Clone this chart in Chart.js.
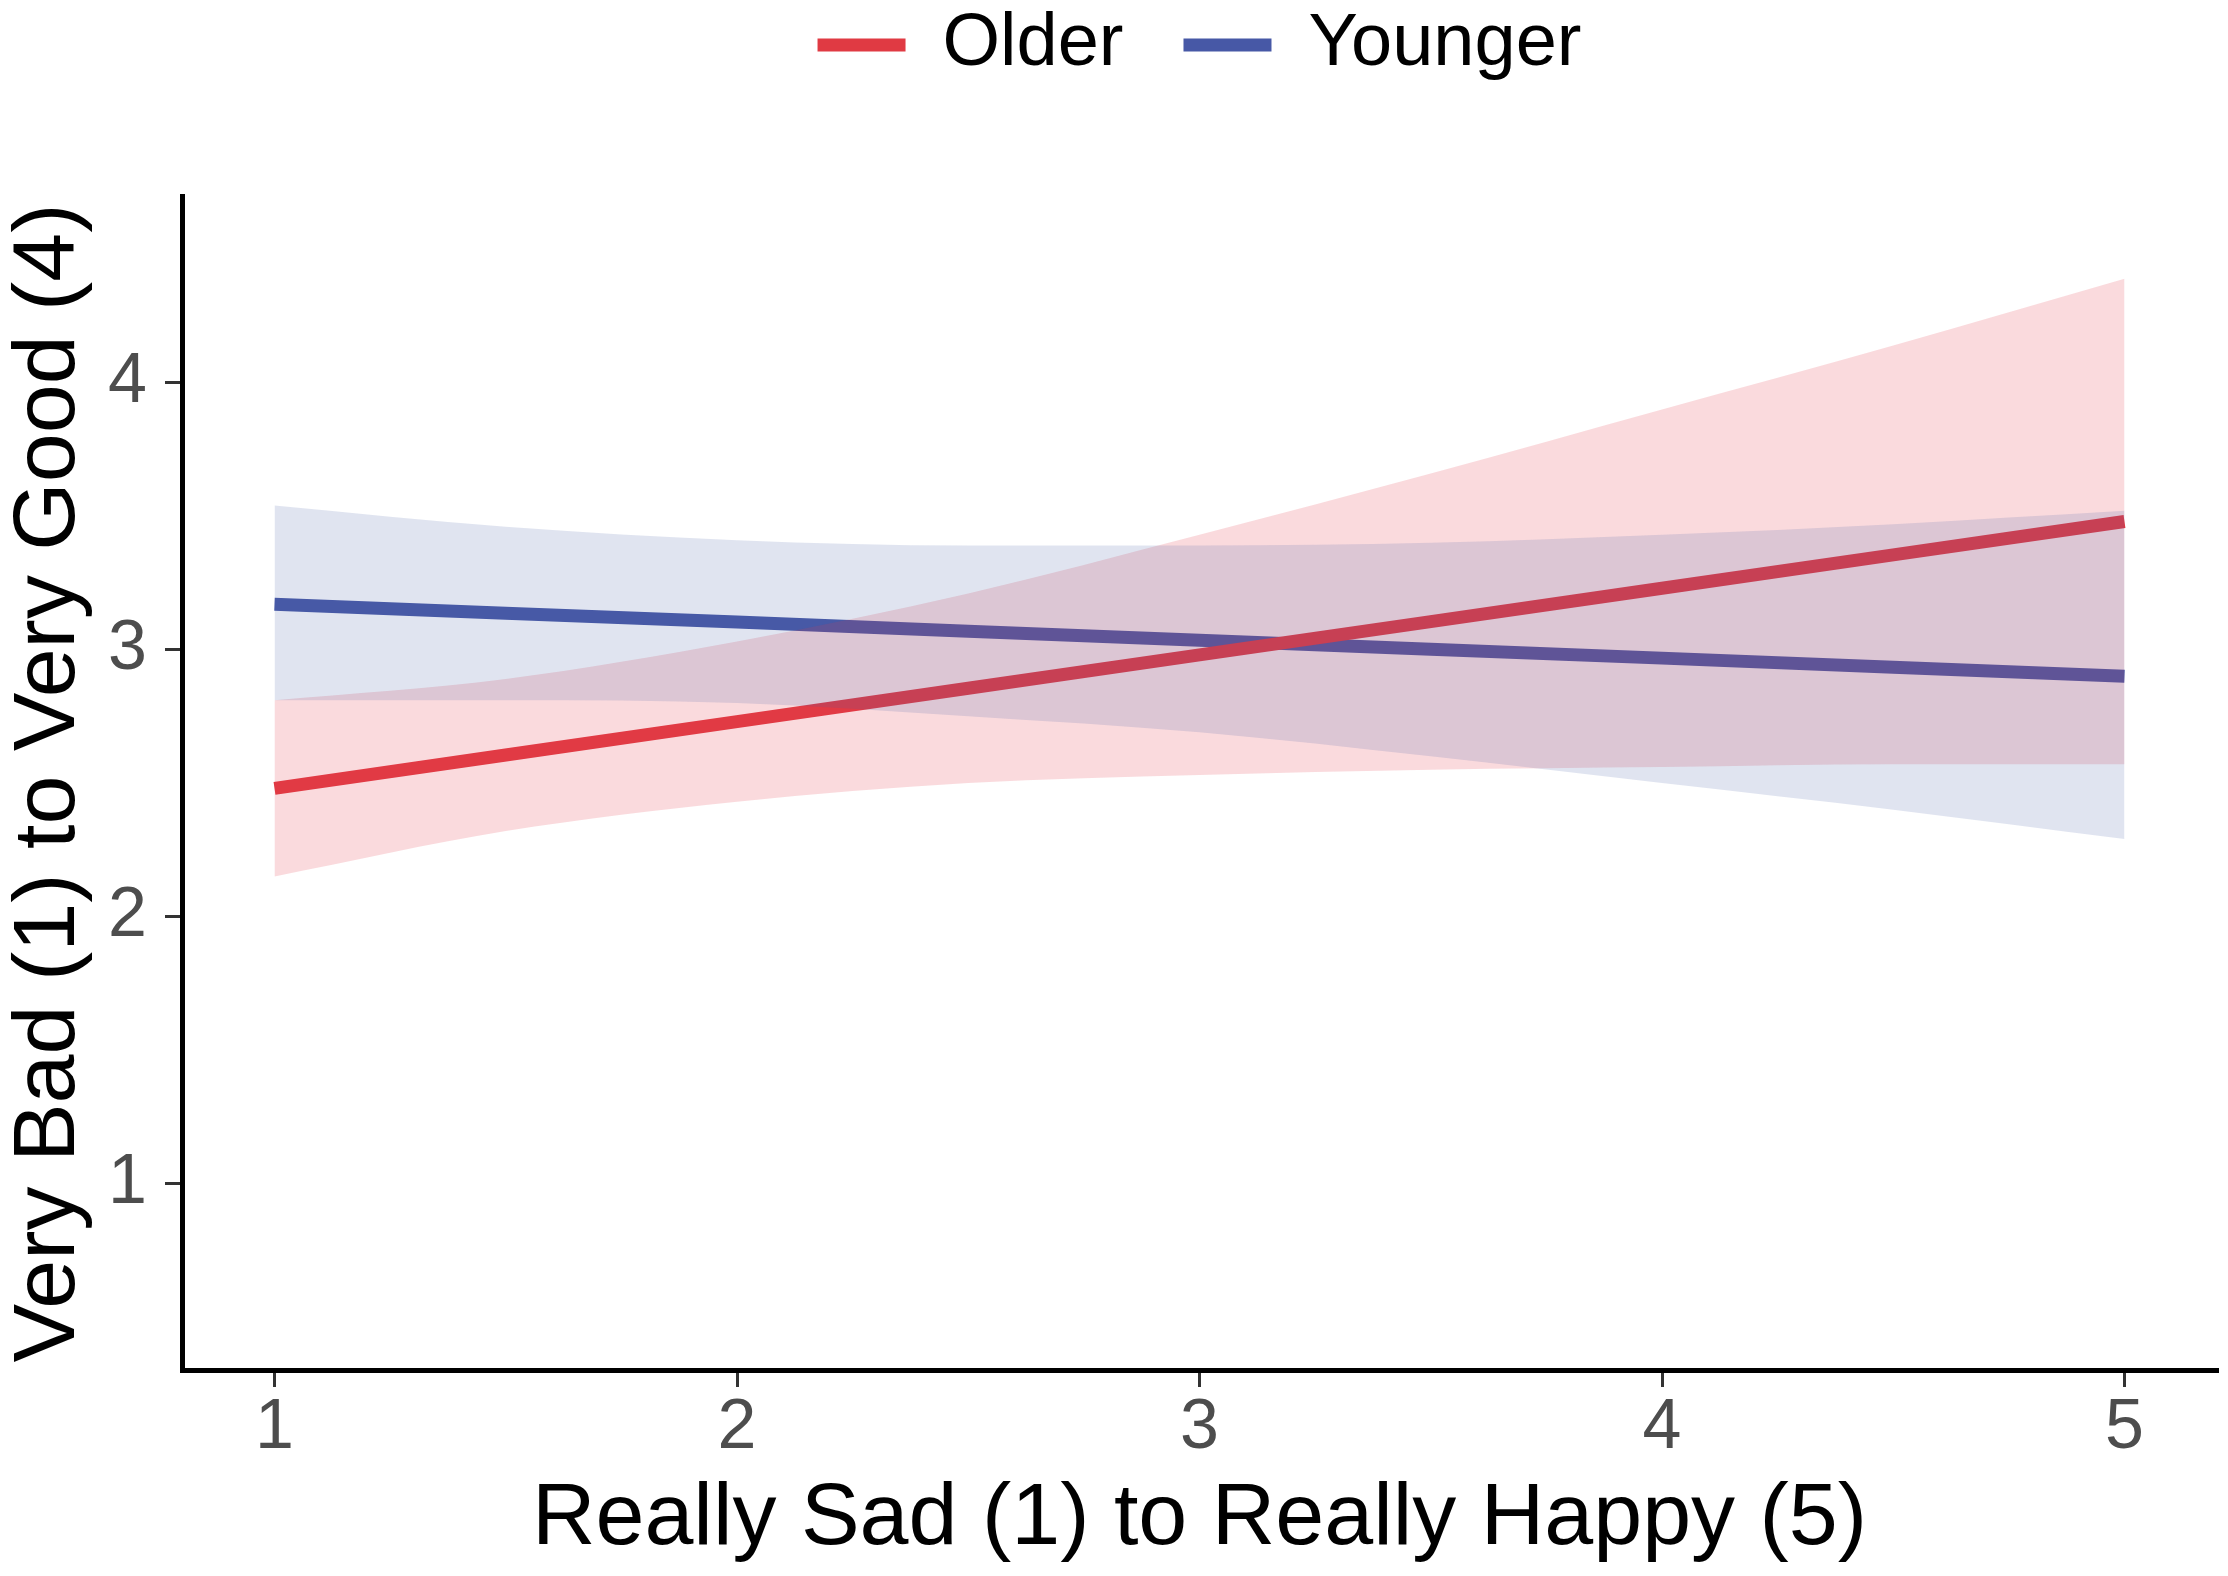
<!DOCTYPE html>
<html>
<head>
<meta charset="utf-8">
<script src="https://cdn.jsdelivr.net/npm/chart.js@4/dist/chart.umd.min.js"></script>
<style>
  body { margin: 0; background: #fff; }
  #wrap { width: 2228px; height: 1576px; }
</style>
</head>
<body>
<div id="wrap"><canvas id="chart"></canvas></div>
<script>
const happiness = [1, 1.5, 2, 2.5, 3, 3.5, 4, 4.5, 5];

const olderFit   = [2.48, 2.605, 2.73, 2.855, 2.98, 3.105, 3.23, 3.355, 3.48];
const olderUpper = [2.81, 2.89, 3.03, 3.21, 3.43, 3.66, 3.90, 4.14, 4.39];
const olderLower = [2.15, 2.32, 2.43, 2.50, 2.53, 2.55, 2.56, 2.57, 2.57];

const youngerFit   = [3.17, 3.136, 3.103, 3.069, 3.035, 3.001, 2.968, 2.934, 2.90];
const youngerUpper = [3.54, 3.46, 3.41, 3.39, 3.39, 3.40, 3.43, 3.47, 3.52];
const youngerLower = [2.81, 2.81, 2.80, 2.75, 2.69, 2.60, 2.50, 2.40, 2.29];

const xTicks = [1, 2, 3, 4, 5];
const yTicks = [1, 2, 3, 4];

const groups = ["Older", "Younger"];
const lineColors = ["#e03a43", "#4758a6"];
const bandColors = ["rgba(228,60,72,0.19)", "rgba(74,92,168,0.17)"];

const FONT = "'Liberation Sans', Arial, Helvetica, sans-serif";

function pts(ys) {
  return happiness.map((x, i) => ({x: x, y: ys[i]}));
}

function band(upper, lower, color) {
  return [
    {
      label: "band",
      data: pts(upper),
      borderWidth: 0,
      pointRadius: 0,
      backgroundColor: color,
      fill: "+1",
      cubicInterpolationMode: "monotone",
      order: 0
    },
    {
      label: "band",
      data: pts(lower),
      borderWidth: 0,
      pointRadius: 0,
      fill: false,
      cubicInterpolationMode: "monotone",
      order: 0
    }
  ];
}

function fitLine(name, ys, color) {
  return {
    label: name,
    data: pts(ys),
    borderColor: color,
    backgroundColor: color,
    borderWidth: 13,
    pointRadius: 0,
    fill: false,
    tension: 0,
    order: 10
  };
}

const ctx = document.getElementById("chart");

new Chart(ctx, {
  type: "line",
  data: {
    datasets: [
      fitLine(groups[0], olderFit, lineColors[0]),
      fitLine(groups[1], youngerFit, lineColors[1]),
      ...band(youngerUpper, youngerLower, bandColors[1]),
      ...band(olderUpper, olderLower, bandColors[0])
    ]
  },
  options: {
    responsive: true,
    maintainAspectRatio: false,
    animation: false,
    layout: {
      padding: {top: -52, right: 11, bottom: 0, left: 0}
    },
    plugins: {
      tooltip: {enabled: false},
      legend: {
        position: "top",
        fullSize: false,
        labels: {
          color: "#000",
          font: {family: FONT, size: 74},
          boxWidth: 88,
          boxHeight: 13,
          padding: 60,
          generateLabels: function(chart) {
            const items = Chart.defaults.plugins.legend.labels.generateLabels(chart);
            return items
              .filter(it => groups.includes(it.text))
              .map(it => Object.assign(it, {lineWidth: 0, fillStyle: it.strokeStyle}));
          }
        }
      }
    },
    scales: {
      x: {
        type: "linear",
        position: "bottom",
        min: 0.8,
        max: 5.2,
        afterBuildTicks: s => { s.ticks = xTicks.map(v => ({value: v})); },
        afterFit: s => { s.height = 206; },
        border: {display: true, color: "#000", width: 5},
        grid: {drawOnChartArea: false, drawTicks: true, tickLength: 17, color: "#333", lineWidth: 3},
        ticks: {color: "#4d4d4d", font: {family: FONT, size: 70}, padding: 0, maxRotation: 0},
        title: {
          display: true,
          text: "Really Sad (1) to Really Happy (5)",
          color: "#000",
          font: {family: FONT, size: 88},
          padding: {top: 0, bottom: 3}
        }
      },
      gap: {
        type: "linear",
        axis: "x",
        position: "top",
        display: true,
        grid: {display: false},
        border: {display: false},
        ticks: {display: false},
        afterFit: s => { s.height = 104; }
      },
      y: {
        type: "linear",
        min: 0.3,
        max: 4.7,
        afterBuildTicks: s => { s.ticks = yTicks.map(v => ({value: v})); },
        afterFit: s => { s.width = 182; },
        border: {display: true, color: "#000", width: 5},
        grid: {drawOnChartArea: false, drawTicks: true, tickLength: 17, color: "#333", lineWidth: 3},
        ticks: {color: "#4d4d4d", font: {family: FONT, size: 70}, padding: 18},
        title: {
          display: true,
          text: "Very Bad (1) to Very Good (4)",
          color: "#000",
          font: {family: FONT, size: 88},
          padding: {top: -3, bottom: 0}
        }
      }
    }
  }
});
</script>
</body>
</html>
